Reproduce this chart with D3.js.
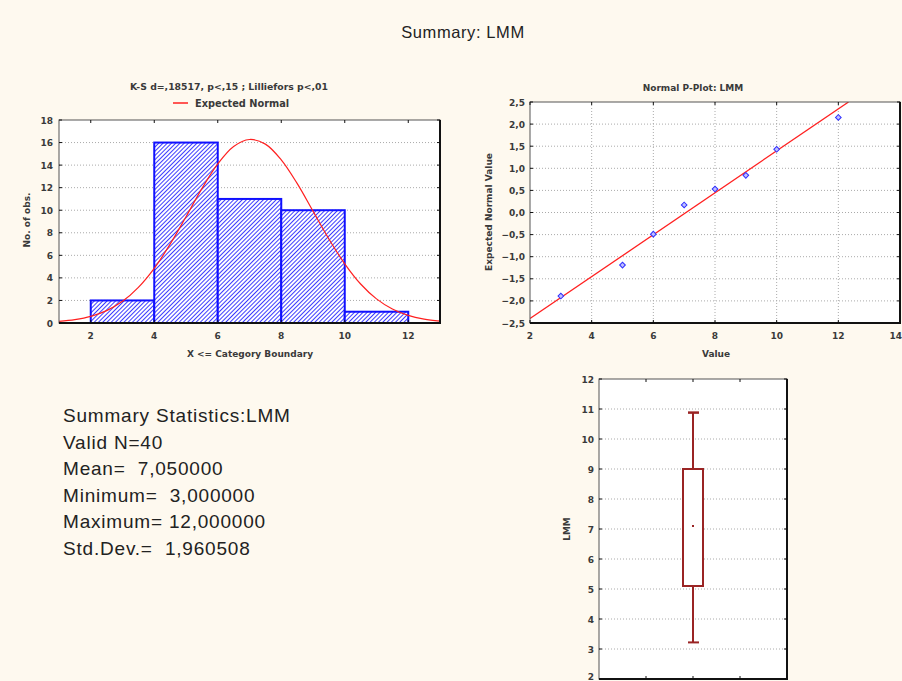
<!DOCTYPE html>
<html><head><meta charset="utf-8">
<script src="https://cdn.jsdelivr.net/npm/d3@7"></script>
<style>
html,body{margin:0;padding:0;background:#fef9ef;}
svg{display:block;}
text{font-family:"Liberation Sans",Arial,sans-serif;fill:#222;white-space:pre;}
text.s{font-family:"DejaVu Sans",sans-serif;font-weight:bold;fill:#3a3a3a;}
</style></head>
<body>
<svg id="c" width="902" height="681"></svg>
<script>
// ---------- data ----------
const binEdges = [2, 4, 6, 8, 10, 12];
const binCounts = [2, 16, 11, 10, 1];
const normalX = [1,1.5,2,2.5,3,3.5,4,4.5,5,5.5,6,6.5,7,7.5,8,8.5,9,9.5,10,10.5,11,11.5,12,12.5,13];
const normalY = [0.14,0.30,0.59,1.10,1.92,3.16,4.85,6.99,9.42,11.91,14.10,15.65,16.27,15.86,14.47,12.38,9.92,7.45,5.25,3.46,2.14,1.24,0.67,0.34,0.16];
const histXTicks = [2,4,6,8,10,12];
const histYTicks = [0,2,4,6,8,10,12,14,16,18];

const ppValues = [3, 5, 6, 7, 8, 9, 10, 12];
const ppExpected = [-1.89, -1.19, -0.49, 0.17, 0.53, 0.84, 1.43, 2.15];
const ppLineX = [2, 12.33];
const ppLineY = [-2.40, 2.50];
const ppXTicks = [2,4,6,8,10,12,14];
const ppYTicks = [-2.5,-2,-1.5,-1,-0.5,0,0.5,1,1.5,2,2.5];

const boxStats = {whiskerLow: 3.22, q1: 5.1, mid: 7.1, q3: 9.0, whiskerHigh: 10.88};
const boxYTicks = [2,3,4,5,6,7,8,9,10,11,12];

const summaryLines = ["Summary Statistics:LMM","Valid N=40","Mean=  7,050000","Minimum=  3,000000","Maximum= 12,000000","Std.Dev.=  1,960508"];

// ---------- drawing ----------
const svg = d3.select("#c");
const comma = d => d3.format(".1f")(d).replace(".", ",");

const defs = svg.append("defs");
const pat = defs.append("pattern").attr("id","hatch").attr("patternUnits","userSpaceOnUse")
  .attr("width",3).attr("height",3).attr("patternTransform","rotate(45)");
pat.append("rect").attr("width",3).attr("height",3).attr("fill","#ffffff");
pat.append("line").attr("x1",0.5).attr("x2",0.5).attr("y1",0).attr("y2",3)
  .attr("stroke","#3c3cff").attr("stroke-width",1).attr("fill","none");

function frame(g, x0, y0, x1, y1){
  g.append("rect").attr("x",x0).attr("y",y0).attr("width",x1-x0).attr("height",y1-y0)
   .attr("fill","none").attr("stroke","#555").attr("stroke-width",1);
  g.append("line").attr("x1",x1).attr("x2",x1).attr("y1",y0).attr("y2",y1+1).attr("stroke","#111").attr("stroke-width",2);
  g.append("line").attr("x1",x0).attr("x2",x1+1).attr("y1",y1).attr("y2",y1).attr("stroke","#111").attr("stroke-width",2);
}
const gridStyle = s => s.attr("stroke","#aaa").attr("stroke-width",1).attr("stroke-dasharray","1,2");
const small = (g, x, y, txt, anchor, size) => g.append("text").attr("class","s").attr("x",x).attr("y",y)
  .attr("text-anchor",anchor||"middle").attr("font-size",size||9).text(txt);

// Main title
svg.append("text").attr("x",463).attr("y",38).attr("text-anchor","middle")
  .attr("font-size",16.5).attr("letter-spacing",0.6).text("Summary: LMM");

// ===== Histogram =====
{
  const L=59,R=440,T=120,B=323;
  const x = d3.scaleLinear().domain([1,13]).range([L,R]);
  const y = d3.scaleLinear().domain([0,18]).range([B,T]);
  const g = svg.append("g");
  g.append("rect").attr("x",L).attr("y",T).attr("width",R-L).attr("height",B-T).attr("fill","#fff");
  histYTicks.filter(t=>t>0&&t<18).forEach(t=>{
    g.append("line").attr("x1",L).attr("x2",R).attr("y1",y(t)).attr("y2",y(t)).call(gridStyle);
  });
  binCounts.forEach((c,i)=>{
    g.append("rect").attr("x",x(binEdges[i])).attr("y",y(c))
      .attr("width",x(binEdges[i+1])-x(binEdges[i])).attr("height",y(0)-y(c))
      .attr("fill","url(#hatch)").attr("stroke","#1010ff").attr("stroke-width",2);
  });
  const line = d3.line().x((d,i)=>x(normalX[i])).y(d=>y(d)).curve(d3.curveCatmullRom);
  g.append("path").attr("d",line(normalY)).attr("fill","none").attr("stroke","#ff2020").attr("stroke-width",1.2);
  frame(g,L,T,R,B);
  histXTicks.forEach(t=>{
    g.append("line").attr("x1",x(t)).attr("x2",x(t)).attr("y1",T).attr("y2",T+3).attr("stroke","#111");
    g.append("line").attr("x1",x(t)).attr("x2",x(t)).attr("y1",B).attr("y2",B-3).attr("stroke","#111");
    small(g, x(t), B+16, t);
  });
  histYTicks.forEach(t=>{
    g.append("line").attr("x1",L).attr("x2",L+3).attr("y1",y(t)).attr("y2",y(t)).attr("stroke","#111");
    g.append("line").attr("x1",R).attr("x2",R-3).attr("y1",y(t)).attr("y2",y(t)).attr("stroke","#111");
    small(g, L-6, y(t)+3.5, t, "end");
  });
  small(g, 250, 357, "X <= Category Boundary");
  g.append("text").attr("class","s").attr("transform","translate(30,220) rotate(-90)").attr("text-anchor","middle").attr("font-size",9).text("No. of obs.");
  small(g, 229, 90, "K-S d=,18517, p<,15 ; Lilliefors p<,01", "middle", 9.3);
  g.append("line").attr("x1",173).attr("x2",188).attr("y1",103).attr("y2",103).attr("stroke","#ff2020").attr("stroke-width",1.5);
  small(g, 195, 106.5, "Expected Normal", "start", 9.8);
}

// ===== Normal P-Plot =====
{
  const L=530,R=900,T=102,B=323;
  const x = d3.scaleLinear().domain([2,14]).range([L,R]);
  const y = d3.scaleLinear().domain([-2.5,2.5]).range([B,T]);
  const g = svg.append("g");
  g.append("rect").attr("x",L).attr("y",T).attr("width",R-L).attr("height",B-T).attr("fill","#fff");
  ppXTicks.filter(t=>t>2&&t<14).forEach(t=>{
    g.append("line").attr("x1",x(t)).attr("x2",x(t)).attr("y1",T).attr("y2",B).call(gridStyle);
  });
  ppYTicks.filter(t=>t>-2.5&&t<2.5).forEach(t=>{
    g.append("line").attr("x1",L).attr("x2",R).attr("y1",y(t)).attr("y2",y(t)).call(gridStyle);
  });
  defs.append("clipPath").attr("id","ppclip").append("rect").attr("x",L).attr("y",T).attr("width",R-L).attr("height",B-T);
  g.append("path").attr("clip-path","url(#ppclip)")
    .attr("d",d3.line().x((d,i)=>x(ppLineX[i])).y(d=>y(d))(ppLineY))
    .attr("fill","none").attr("stroke","#ff2020").attr("stroke-width",1.3);
  ppValues.forEach((v,i)=>{
    g.append("rect").attr("x",-2).attr("y",-2).attr("width",4).attr("height",4)
      .attr("transform",`translate(${x(v)},${y(ppExpected[i])}) rotate(45)`)
      .attr("fill","#c0c0ff").attr("stroke","#3030ff").attr("stroke-width",1);
  });
  frame(g,L,T,R,B);
  ppXTicks.forEach(t=>{
    g.append("line").attr("x1",x(t)).attr("x2",x(t)).attr("y1",T).attr("y2",T+3).attr("stroke","#111");
    g.append("line").attr("x1",x(t)).attr("x2",x(t)).attr("y1",B).attr("y2",B-3).attr("stroke","#111");
    if (t === 14) small(g, 902, B+16, t, "end");
    else small(g, x(t), B+16, t);
  });
  ppYTicks.forEach(t=>{
    g.append("line").attr("x1",L).attr("x2",L+3).attr("y1",y(t)).attr("y2",y(t)).attr("stroke","#111");
    g.append("line").attr("x1",R).attr("x2",R-3).attr("y1",y(t)).attr("y2",y(t)).attr("stroke","#111");
    small(g, L-5, y(t)+3.5, comma(t), "end");
  });
  small(g, 716, 357, "Value");
  g.append("text").attr("class","s").attr("transform","translate(492,212) rotate(-90)").attr("text-anchor","middle").attr("font-size",9).text("Expected Normal Value");
  small(g, 693, 91, "Normal P-Plot: LMM");
}

// ===== Box plot =====
{
  const L=599,R=787,T=379,B=679;
  const x = d3.scaleLinear().domain([0,4]).range([L,R]);
  const y = d3.scaleLinear().domain([2,12]).range([B,T]);
  const g = svg.append("g");
  g.append("rect").attr("x",L).attr("y",T).attr("width",R-L).attr("height",B-T).attr("fill","#fff");
  boxYTicks.filter(t=>t>2&&t<12).forEach(t=>{
    g.append("line").attr("x1",L).attr("x2",R).attr("y1",y(t)).attr("y2",y(t)).call(gridStyle);
  });
  const cx = x(2), col = "#9a2424";
  g.append("line").attr("x1",cx).attr("x2",cx).attr("y1",y(boxStats.whiskerHigh)).attr("y2",y(boxStats.q3)).attr("stroke",col).attr("stroke-width",2);
  g.append("line").attr("x1",cx).attr("x2",cx).attr("y1",y(boxStats.q1)).attr("y2",y(boxStats.whiskerLow)).attr("stroke",col).attr("stroke-width",2);
  g.append("line").attr("x1",cx-5).attr("x2",cx+6).attr("y1",y(boxStats.whiskerHigh)).attr("y2",y(boxStats.whiskerHigh)).attr("stroke",col).attr("stroke-width",2.5);
  g.append("line").attr("x1",cx-5).attr("x2",cx+6).attr("y1",y(boxStats.whiskerLow)).attr("y2",y(boxStats.whiskerLow)).attr("stroke",col).attr("stroke-width",2);
  g.append("rect").attr("x",cx-10).attr("y",y(boxStats.q3)).attr("width",20).attr("height",y(boxStats.q1)-y(boxStats.q3))
    .attr("fill","#fff").attr("stroke",col).attr("stroke-width",2);
  g.append("rect").attr("x",cx-1).attr("y",y(boxStats.mid)-1).attr("width",2).attr("height",2).attr("fill",col);
  frame(g,L,T,R,B);
  [1,2,3].forEach(t=>{
    g.append("line").attr("x1",x(t)).attr("x2",x(t)).attr("y1",T).attr("y2",T+3).attr("stroke","#111");
    g.append("line").attr("x1",x(t)).attr("x2",x(t)).attr("y1",B).attr("y2",B-3).attr("stroke","#111");
  });
  boxYTicks.forEach(t=>{
    g.append("line").attr("x1",L).attr("x2",L+3).attr("y1",y(t)).attr("y2",y(t)).attr("stroke","#111");
    g.append("line").attr("x1",R).attr("x2",R-3).attr("y1",y(t)).attr("y2",y(t)).attr("stroke","#111");
    small(g, L-5, Math.min(y(t)+3.5, 680), t, "end");
  });
  g.append("text").attr("class","s").attr("transform",`translate(570,${y(7)}) rotate(-90)`).attr("text-anchor","middle").attr("font-size",9).text("LMM");
}

// ===== Summary text =====
svg.append("g").selectAll("text").data(summaryLines).join("text")
  .attr("x",63).attr("y",(d,i)=>422+i*26.6).attr("font-size",19).attr("letter-spacing",0.8).attr("fill","#222").text(d=>d);
</script>
</body></html>
